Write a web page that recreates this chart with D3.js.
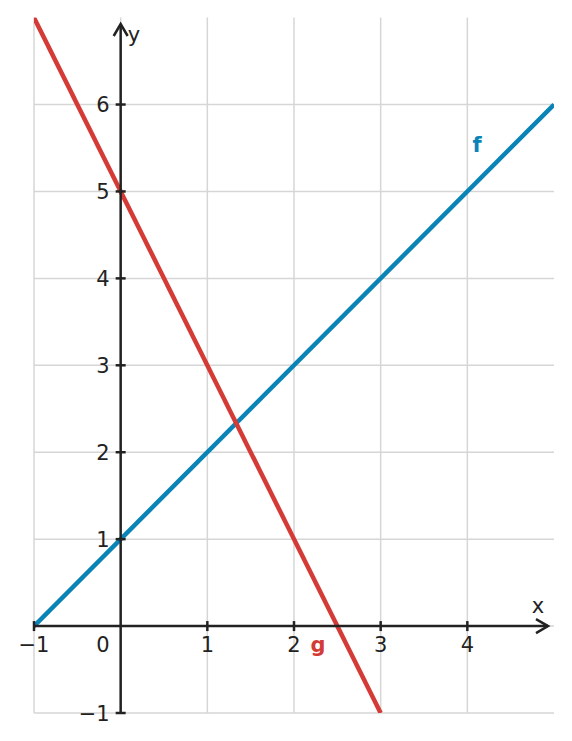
<!DOCTYPE html>
<html>
<head>
<meta charset="utf-8">
<script src="https://cdn.jsdelivr.net/npm/d3@7"></script>
<style>
  body { margin: 0; background: #fff; }
  text { font-family: "DejaVu Sans", sans-serif; fill: #222; }
</style>
</head>
<body>
<div id="chart"></div>
<script>
// data: two lines f(x) = x + 1 and g(x) = -2x + 5
var fPoints = [[-1, 0], [5, 6]];
var gPoints = [[-1, 7], [3, -1]];
var xTicks = [-1, 1, 2, 3, 4];
var yTicks = [-1, 1, 2, 3, 4, 5, 6];
var xGrid = [-1, 0, 1, 2, 3, 4];
var yGrid = [-1, 0, 1, 2, 3, 4, 5, 6];

var width = 572, height = 741;
var svg = d3.select("#chart").append("svg")
    .attr("width", width)
    .attr("height", height);

var x = d3.scaleLinear().domain([-1, 5]).range([34, 554]);
var y = d3.scaleLinear().domain([-1, 7]).range([713, 17.6]);

/*------grid------*/
svg.selectAll(".vgrid").data(xGrid).enter().append("line")
    .attr("x1", d => x(d)).attr("x2", d => x(d))
    .attr("y1", y(-1)).attr("y2", y(7))
    .attr("stroke", "#d6d6d6").attr("stroke-width", 1.5);

svg.selectAll(".hgrid").data(yGrid).enter().append("line")
    .attr("x1", x(-1)).attr("x2", x(5))
    .attr("y1", d => y(d)).attr("y2", d => y(d))
    .attr("stroke", "#d6d6d6").attr("stroke-width", 1.5);

/*------lines, clipped to plot area------*/
svg.append("clipPath").attr("id", "clip").append("rect")
    .attr("x", x(-1)).attr("y", y(7))
    .attr("width", x(5) - x(-1)).attr("height", y(-1) - y(7));

var line = d3.line().x(d => x(d[0])).y(d => y(d[1]));

svg.append("path").datum(fPoints)
    .attr("d", line).attr("clip-path", "url(#clip)")
    .attr("fill", "none").attr("stroke", "#0a84b7").attr("stroke-width", 4.5);

svg.append("path").datum(gPoints)
    .attr("d", line).attr("clip-path", "url(#clip)")
    .attr("fill", "none").attr("stroke", "#d43b36").attr("stroke-width", 4.5);

/*------axes------*/
var axisColor = "#222";
svg.append("line")
    .attr("x1", x(-1)).attr("x2", 548)
    .attr("y1", y(0)).attr("y2", y(0))
    .attr("stroke", axisColor).attr("stroke-width", 2.5);
svg.append("line")
    .attr("x1", x(0)).attr("x2", x(0))
    .attr("y1", y(-1)).attr("y2", 24)
    .attr("stroke", axisColor).attr("stroke-width", 2.5);

// arrow heads
svg.append("path")
    .attr("d", "M" + 536 + "," + (y(0) - 7) + " L" + 548 + "," + y(0) + " L" + 536 + "," + (y(0) + 7))
    .attr("fill", "none").attr("stroke", axisColor).attr("stroke-width", 2.5);
svg.append("path")
    .attr("d", "M" + (x(0) - 7) + "," + 36 + " L" + x(0) + "," + 24 + " L" + (x(0) + 7) + "," + 36)
    .attr("fill", "none").attr("stroke", axisColor).attr("stroke-width", 2.5);

// tick marks
svg.selectAll(".xtick").data(xTicks).enter().append("line")
    .attr("x1", d => x(d)).attr("x2", d => x(d))
    .attr("y1", y(0) - 5).attr("y2", y(0) + 5)
    .attr("stroke", axisColor).attr("stroke-width", 2.5);
svg.selectAll(".ytick").data(yTicks).enter().append("line")
    .attr("x1", x(0) - 5).attr("x2", x(0) + 5)
    .attr("y1", d => y(d)).attr("y2", d => y(d))
    .attr("stroke", axisColor).attr("stroke-width", 2.5);

// tick labels
svg.selectAll(".xlab").data(xTicks).enter().append("text")
    .attr("x", d => x(d)).attr("y", y(0) + 26)
    .attr("text-anchor", "middle").style("font-size", "21px")
    .text(d => d < 0 ? "\u2212" + Math.abs(d) : d);

svg.selectAll(".ylab").data(yTicks).enter().append("text")
    .attr("x", x(0) - 11).attr("y", d => y(d) + 7.5)
    .attr("text-anchor", "end").style("font-size", "21px")
    .text(d => d < 0 ? "\u2212" + Math.abs(d) : d);

svg.append("text").attr("x", 103).attr("y", y(0) + 26)
    .attr("text-anchor", "middle").style("font-size", "21px").text("0");

// axis names
svg.append("text").attr("x", 538).attr("y", 613)
    .attr("text-anchor", "middle").style("font-size", "21px").text("x");
svg.append("text").attr("x", 134).attr("y", 42)
    .attr("text-anchor", "middle").style("font-size", "21px").text("y");

// function labels
svg.append("text").attr("x", 477).attr("y", 152)
    .attr("text-anchor", "middle").style("font-size", "21px").style("font-weight", "bold")
    .style("fill", "#0a84b7").text("f");
svg.append("text").attr("x", 318).attr("y", 652)
    .attr("text-anchor", "middle").style("font-size", "21px").style("font-weight", "bold")
    .style("fill", "#d43b36").text("g");
</script>
</body>
</html>
